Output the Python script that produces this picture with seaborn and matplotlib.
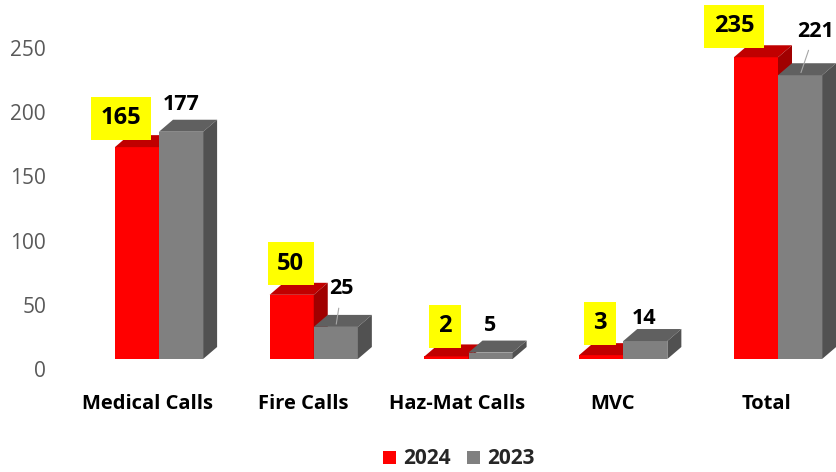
import matplotlib
matplotlib.use("Agg")
import matplotlib.pyplot as plt
from matplotlib.patches import Polygon, Patch
from matplotlib.transforms import ScaledTranslation
import seaborn as sns
import pandas as pd

# ---- data ----
categories = ["Medical Calls", "Fire Calls", "Haz-Mat Calls", "MVC", "Total"]
years = ["2024", "2023"]
values_2024 = [165, 50, 2, 3, 235]
values_2023 = [177, 25, 5, 14, 221]
y_ticks = [0, 50, 100, 150, 200, 250]

# ---- style ----
front_colors = {"2024": "#FF0000", "2023": "#808080"}
top_colors = {"2024": "#C00000", "2023": "#606060"}
side_colors = {"2024": "#A00000", "2023": "#515151"}
# label offsets (pixels) relative to front-top-centre of each bar
off_2024 = [(-16, 29), (-1, 31), (-1.5, 30), (-1.5, 32), (-22, 31)]
off_2023 = [(0, 27), (6, 38), (0, 27), (-1, 23), (15, 44)]
leader_2023 = [False, True, False, False, True]

df = pd.DataFrame({
    "category": categories * 2,
    "year": [years[0]] * len(categories) + [years[1]] * len(categories),
    "value": values_2024 + values_2023,
})

sns.set_theme(style="white")
plt.rcParams["font.family"] = ["Open Sans", "DejaVu Sans"]

W, H, DPI = 836, 472, 100
fig = plt.figure(figsize=(W / DPI, H / DPI), dpi=DPI)
ax_left, ax_right, ax_top, ax_bot = 60, 836, 0, 375
ax = fig.add_axes([ax_left / W, (H - ax_bot) / H,
                   (ax_right - ax_left) / W, (ax_bot - ax_top) / H])

sns.barplot(data=df, x="category", y="value", hue="year",
            hue_order=years, palette=front_colors, width=0.57,
            saturation=1, legend=False, ax=ax, linewidth=0)

# axis limits (pixel mapping)
px_x = 154.75
px_y = 1.284
ax.set_xlim((ax_left - 148) / px_x, (ax_right - 148) / px_x)
ax.set_ylim(-(ax_bot - 369) / px_y, (369 - ax_top) / px_y)
ax.set_yticks(y_ticks)
ax.tick_params(axis="y", labelsize=15, labelcolor="#595959", length=0, pad=10)
ax.tick_params(axis="x", labelsize=14.5, labelcolor="black", length=0, pad=14)
for lab in ax.get_xticklabels():
    lab.set_fontweight("bold")
ax.set_xlabel("")
ax.set_ylabel("")
for s in ax.spines.values():
    s.set_visible(False)
ax.grid(False)

# 3D shift of front faces
shift = ScaledTranslation(11 / DPI, 10 / DPI, fig.dpi_scale_trans)
ddx = 14 / px_x
ddy = 12 / px_y

for ci, (container, yr) in enumerate(zip(ax.containers, years)):
    z = 2 + ci
    vals = values_2024 if yr == "2024" else values_2023
    offs = off_2024 if yr == "2024" else off_2023
    for bi, p in enumerate(container.patches):
        p.set_transform(ax.transData + shift)
        p.set_zorder(z)
        x0 = p.get_x()
        x1 = x0 + p.get_width()
        h = p.get_height()
        top = Polygon([(x0, h), (x1, h), (x1 + ddx, h + ddy), (x0 + ddx, h + ddy)],
                      closed=True, facecolor=top_colors[yr], edgecolor="none",
                      transform=ax.transData + shift, zorder=z, clip_on=False)
        side = Polygon([(x1, 0), (x1 + ddx, ddy), (x1 + ddx, h + ddy), (x1, h)],
                       closed=True, facecolor=side_colors[yr], edgecolor="none",
                       transform=ax.transData + shift, zorder=z, clip_on=False)
        ax.add_patch(top)
        ax.add_patch(side)
        cx = (x0 + x1) / 2
        dxp, dyp = offs[bi]
        if yr == "2024":
            ax.annotate(str(vals[bi]), xy=(cx, h), xycoords=ax.transData + shift,
                        xytext=(dxp, dyp), textcoords="offset pixels",
                        ha="center", va="center", fontsize=17, fontweight="bold",
                        color="black", zorder=6,
                        bbox=dict(boxstyle="square,pad=0.4", fc="#FFFF00", ec="none"))
        else:
            ap = None
            if leader_2023[bi]:
                ap = dict(arrowstyle="-", color="#A6A6A6", lw=0.8,
                          shrinkA=4, shrinkB=2)
            ax.annotate(str(vals[bi]), xy=(cx, h), xycoords=ax.transData + shift,
                        xytext=(dxp, dyp), textcoords="offset pixels",
                        ha="center", va="center", fontsize=15.5, fontweight="bold",
                        color="black", zorder=6, arrowprops=ap)

handles = [Patch(facecolor=front_colors[y], edgecolor="none", label=y) for y in years]
fig.legend(handles=handles, loc="center", bbox_to_anchor=(459 / W, 1 - 459 / H),
           ncol=2, frameon=False, prop=dict(family="Open Sans", weight="bold", size=15),
           handlelength=0.6, handleheight=0.6, handletextpad=0.35, columnspacing=0.8,
           borderpad=0, borderaxespad=0)

fig.savefig("out.png", dpi=DPI)
